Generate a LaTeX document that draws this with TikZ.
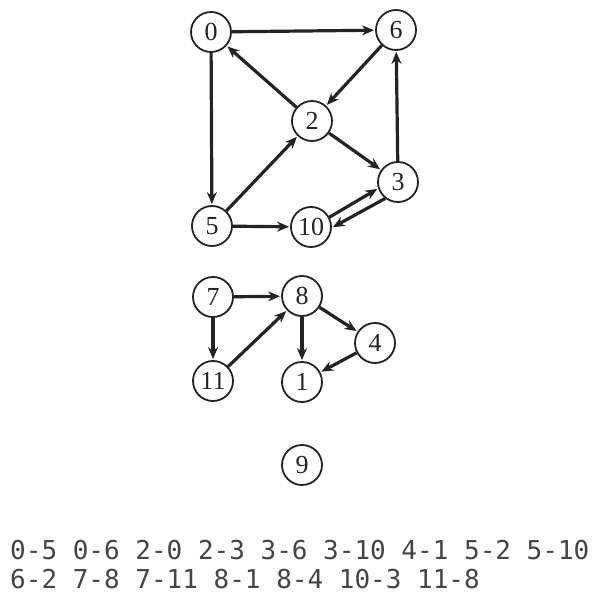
\documentclass[tikz,border=0pt]{standalone}
\usepackage{fontspec}
\newfontfamily\monofont{DejaVu Sans Mono}
\newfontfamily\nodefont{Liberation Serif}
\usetikzlibrary{arrows.meta}
\definecolor{ink}{RGB}{35,35,35}
\begin{document}
\begin{tikzpicture}[x=1pt,y=-1pt,
  vtx/.style={circle,draw=ink,line width=1.8pt,minimum size=40pt,inner sep=0pt,text=ink,font=\nodefont\fontsize{26}{26}\selectfont},
  edge/.style={draw=ink,line width=3.2pt,-{Stealth[length=12pt,width=10pt]},shorten >=1pt}]
\useasboundingbox (0,0) rectangle (603,599);
\node[vtx] (n0) at (211,32) {0};
\node[vtx] (n6) at (396,30) {6};
\node[vtx] (n2) at (312,121) {2};
\node[vtx] (n3) at (398,182) {3};
\node[vtx] (n5) at (212,226) {5};
\node[vtx] (n10) at (311,227) {10};
\node[vtx] (n7) at (213,297) {7};
\node[vtx] (n8) at (302,296) {8};
\node[vtx] (n4) at (375,343) {4};
\node[vtx] (n11) at (213,381) {11};
\node[vtx] (n1) at (302,382) {1};
\node[vtx] (n9) at (302,465) {9};
\draw[edge] (n0) -- (n5);
\draw[edge] (n0) -- (n6);
\draw[edge] (n2) -- (n0);
\draw[edge] (n2) -- (n3);
\draw[edge] (n3) -- (n6);
\draw[edge] (n10.28) -- (n3.198);
\draw[edge] (n3.232) -- (n10.-2);
\draw[edge] (n4) -- (n1);
\draw[edge] (n5) -- (n2);
\draw[edge] (n5) -- (n10);
\draw[edge] (n6) -- (n2);
\draw[edge] (n7) -- (n8);
\draw[edge] (n7) -- (n11);
\draw[edge] (n8) -- (n1);
\draw[edge] (n8) -- (n4);
\draw[edge] (n11) -- (n8);
\node[anchor=base west,inner sep=0pt,text=ink!85,font=\monofont\fontsize{26}{26}\selectfont] (l1) at (10,559) {0-5 0-6 2-0 2-3 3-6 3-10 4-1 5-2 5-10};
\node[anchor=base west,inner sep=0pt,text=ink!85,font=\monofont\fontsize{26}{26}\selectfont] (l2) at (10,588) {6-2 7-8 7-11 8-1 8-4 10-3 11-8};
\end{tikzpicture}
\end{document}
